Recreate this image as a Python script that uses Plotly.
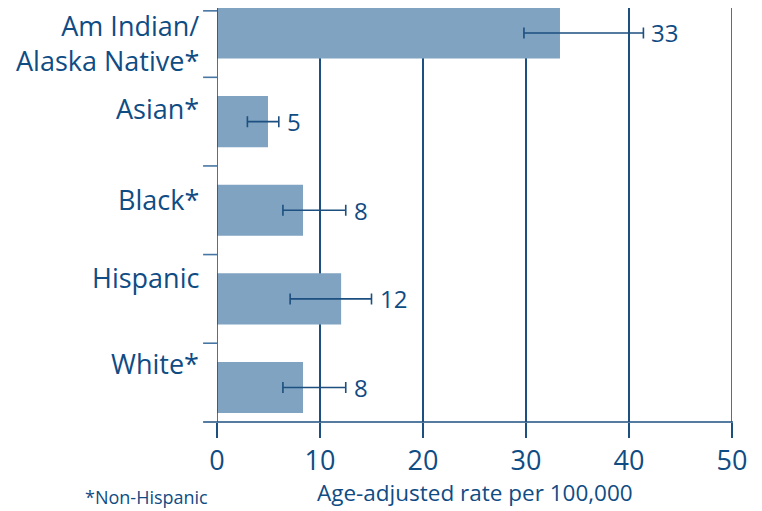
import plotly.graph_objects as go

categories = ["Am Indian/<br>Alaska Native*", "Asian*", "Black*", "Hispanic", "White*"]
rates = [33.3, 4.95, 8.35, 12.05, 8.35]
ci_low = [29.8, 2.95, 6.4, 7.1, 6.4]
ci_high = [41.4, 6.0, 12.5, 15.0, 12.5]
value_labels = ["33", "5", "8", "12", "8"]
x_ticks = [0, 10, 20, 30, 40, 50]

# style
BAR = "#7fa3c1"
DARK = "#0f4c84"
LINE = "#1d4f80"
TICKC = "#4776a3"
FONT = "Open Sans"
LABEL_YSHIFT = [-10, 13.5, 10.5, 21.5, 24.5]

pos = list(range(len(categories)))

fig = go.Figure()
fig.add_trace(go.Bar(
    y=pos, x=rates, orientation="h", width=0.576,
    marker=dict(color=BAR, line=dict(width=0)),
    error_x=dict(type="data", symmetric=False,
                 array=[h - r for h, r in zip(ci_high, rates)],
                 arrayminus=[r - l for r, l in zip(rates, ci_low)],
                 color=LINE, thickness=1.6, width=5.5),
    hoverinfo="skip",
))

annotations = []
for i, (cat, hi, lab) in enumerate(zip(categories, ci_high, value_labels)):
    annotations.append(dict(x=0, xref="paper", y=i, yref="y", text=cat, showarrow=False,
                            xanchor="right", yanchor="middle", xshift=-16, yshift=LABEL_YSHIFT[i],
                            align="right", font=dict(family=FONT, size=27, color=DARK)))
    annotations.append(dict(x=hi, xref="x", y=i, yref="y", text=lab, showarrow=False,
                            xanchor="left", yanchor="middle", xshift=6,
                            font=dict(family=FONT, size=24, color=DARK)))
annotations.append(dict(x=0.5, xref="paper", y=-0.171, yref="paper",
                        text="Age-adjusted rate per 100,000", showarrow=False,
                        xanchor="center", yanchor="middle",
                        font=dict(family=FONT, size=22.5, color=DARK)))
annotations.append(dict(x=-0.26, xref="paper", y=-0.18, yref="paper",
                        text="*Non-Hispanic", showarrow=False,
                        xanchor="left", yanchor="middle",
                        font=dict(family=FONT, size=18, color=DARK)))

shapes = [dict(type="line", xref="paper", yref="paper", x0=-0.027, x1=1.002, y0=0, y1=0,
               line=dict(color=LINE, width=1.6))]
for yv in [-0.25, 0.5, 1.5, 2.5, 3.5]:
    shapes.append(dict(type="line", xref="paper", yref="y", x0=-0.027, x1=0, y0=yv, y1=yv,
                       line=dict(color=TICKC, width=1.6)))
for xv in [x_ticks[0], x_ticks[-1]]:
    shapes.append(dict(type="line", xref="x", yref="paper", x0=xv, x1=xv, y0=0, y1=1,
                       line=dict(color=LINE, width=1.6)))

fig.update_layout(
    width=762, height=511,
    margin=dict(l=217, r=30, t=8, b=89),
    paper_bgcolor="white", plot_bgcolor="white",
    showlegend=False,
    annotations=annotations, shapes=shapes,
    xaxis=dict(range=[0, 50], tickvals=x_ticks, ticktext=[str(t) for t in x_ticks],
               showgrid=True, gridcolor=LINE, gridwidth=1.6,
               ticks="outside", ticklen=15, tickwidth=1.6, tickcolor=LINE,
               showline=False, zeroline=False,
               tickfont=dict(family=FONT, size=27, color=DARK)),
    yaxis=dict(range=[4.389, -0.282], showticklabels=False, showgrid=False,
               zeroline=False, showline=False, ticks=""),
)

fig.write_html("out.html")
